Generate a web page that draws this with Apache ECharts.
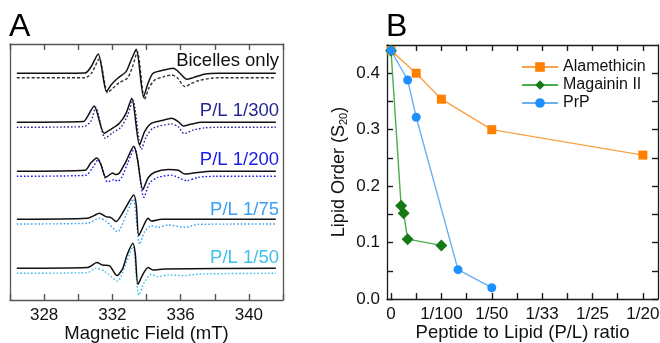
<!DOCTYPE html>
<html><head><meta charset="utf-8">
<script src="https://cdn.jsdelivr.net/npm/echarts@6/dist/echarts.min.js"></script>
<style>html,body{margin:0;padding:0;background:#fff}#c{width:660px;height:343px}</style>
</head><body><div id="c"></div>
<script>
// ---------- Panel A : EPR spectra (field in mT, derivative amplitude in arbitrary units) ----------
var traceNames = ['Bicelles only', 'P/L 1/300', 'P/L 1/200', 'P/L 1/75', 'P/L 1/50'];
var solidBaselines  = [226.7, 177.7, 128.7, 80.7, 31.7];
var dashedBaselines = [222.3, 172.7, 123.7, 76.0, 26.7];
var solid1 = [[326.4,0],[330.4,0.3],[330.73,6],[331.17,19.3],[331.66,-18.4],[331.92,-11.7],[332.31,-5],[332.8,1.7],[333.1,13.3],[333.4,24],[333.83,-23.4],[334.09,-10],[334.38,0],[334.88,2.7],[335.57,5],[335.76,3.3],[336.06,-1.7],[336.36,-6],[336.75,-4.3],[337.44,-0.7],[338.23,0],[341.58,0]];
var solid2 = [[326.4,0],[330.3,0.7],[330.54,5.7],[330.93,16.3],[331.52,-11],[331.92,-7],[332.41,-1],[332.8,9],[333.14,24],[333.59,-22.7],[333.89,-9.3],[334.28,-1],[334.88,1.7],[335.47,4],[335.86,0.7],[336.16,-3.7],[336.65,-1.7],[337.24,0],[341.58,0]];
var solid3 = [[326.4,0],[330.4,1],[330.73,8.3],[331.09,13.3],[331.33,6.7],[331.62,-6],[332.02,-1.7],[332.21,-3.3],[332.41,-1.7],[332.8,10],[333.26,25],[333.46,13.3],[333.79,-18.3],[334.09,-6.7],[334.48,-1],[335.27,1.7],[335.86,1],[336.26,-2.7],[336.75,-1.7],[337.83,0],[341.58,0]];
var solid4 = [[326.4,0],[330.54,1],[330.93,3.7],[331.23,6],[331.62,2.7],[331.92,1.7],[332.21,-2.3],[332.7,9.3],[333.26,24.3],[333.4,14.3],[333.55,-16.3],[333.85,-5.7],[334.09,1],[334.28,-1.7],[334.88,0],[341.58,0]];
var solid5 = [[326.4,0],[330.54,0.7],[331.09,5.7],[331.42,3.3],[331.82,2.7],[332.27,-7.3],[332.61,0],[332.86,13.3],[333.2,25],[333.34,15],[333.5,-16],[333.79,-6],[334.09,0.7],[334.38,-1.7],[335.07,-0.7],[341.58,0]];
var dashed1 = [[326.4,0],[330.4,0],[330.8,5],[331.23,19],[331.72,-15],[332.0,-11],[332.4,-5],[332.9,0],[333.2,12],[333.46,26],[333.89,-21.7],[334.15,-10],[334.48,-2.3],[335.0,1],[335.47,2.7],[335.8,0],[336.26,-9],[336.6,-6],[337.05,-3],[337.8,-0.5],[338.5,0],[341.58,0]];
var dashed2 = [[326.4,0],[330.3,0.7],[330.73,5.7],[331.03,20],[331.58,-11],[332.02,-5.3],[332.5,0],[332.9,12.3],[333.2,27.3],[333.7,-22],[333.99,-9.3],[334.38,-1],[335.47,3.3],[335.86,0.7],[336.2,-6.3],[336.75,-2.7],[337.44,-0.5],[338.2,0],[341.58,0]];
var dashed3 = [[326.4,0],[330.44,1],[330.83,8.3],[331.17,16.7],[331.72,-5.7],[332.11,-3.3],[332.31,-5],[332.55,-1],[332.9,13.3],[333.3,28.3],[333.85,-21],[334.19,-6.7],[334.68,-1],[335.47,1],[336.36,-4.3],[337.05,-1],[338.0,0],[341.58,0]];
var dashed4 = [[326.4,0],[330.54,0.7],[331.23,5.7],[331.62,3],[332.31,-7.7],[332.8,9],[333.22,25],[333.6,-20.3],[333.89,-7.7],[334.28,-1.7],[334.68,-3.3],[335.27,-1],[336.26,-3.3],[337.05,-0.3],[341.58,0]];
var dashed5 = [[326.4,0],[330.54,0.7],[331.03,5],[331.52,2.3],[332.31,-7.7],[332.8,10],[333.2,26.7],[333.55,-21.7],[333.89,-8.3],[334.28,-1],[334.68,-3.3],[335.27,-1.7],[336.26,-2.3],[337.05,-0.7],[341.58,0]];
var fieldTicks = [328, 332, 336, 340];

// ---------- Panel B : lipid order vs P/L ----------
var seriesNames = ['Alamethicin', 'Magainin II', 'PrP'];
var xAla = [0, 0.005, 0.01, 0.02, 0.05];
var yAla = [0.44, 0.40, 0.354, 0.30, 0.255];
var xMag = [0, 0.002, 0.0025, 0.0033, 0.01];
var yMag = [0.44, 0.165, 0.152, 0.106, 0.095];
var xPrP = [0, 0.0033, 0.005, 0.0133, 0.02];
var yPrP = [0.44, 0.388, 0.322, 0.052, 0.02];
var plTickValues = [0, 0.01, 0.02, 0.03, 0.04, 0.05];
var plTickLabels = ['0', '1/100', '1/50', '1/33', '1/25', '1/20'];
var plTicks = [0, 0.005, 0.01, 0.015, 0.02, 0.025, 0.03, 0.035, 0.04, 0.045, 0.05];
var orderTickValues = [0, 0.1, 0.2, 0.3, 0.4];
var orderTicks = [0, 0.05, 0.1, 0.15, 0.2, 0.25, 0.3, 0.35, 0.4];

var FONT = '"Liberation Sans", Arial, sans-serif';
var solidTraces = [solid1, solid2, solid3, solid4, solid5];
var dashedTraces = [dashed1, dashed2, dashed3, dashed4, dashed5];
var dashColors = ['#333333', '#2a2a95', '#1c1ce8', '#3a9ff3', '#3fc0ea'];
var labelColors = ['#111111', '#26268f', '#1c1ce8', '#3a9ff3', '#3fc0ea'];

function shift(tr, b) { return tr.map(function (p) { return [p[0], p[1] + b]; }); }
function zip(xs, ys) { return xs.map(function (x, i) { return [x, ys[i]]; }); }

var series = [];
for (var i = 0; i < 5; i++) {
  series.push({ type: 'line', xAxisIndex: 0, yAxisIndex: 0, data: shift(dashedTraces[i], dashedBaselines[i]),
    showSymbol: false, smooth: 0.25, silent: true,
    lineStyle: { color: dashColors[i], width: 1.4, type: i === 0 ? [3, 2] : [1.6, 2] } });
  series.push({ type: 'line', xAxisIndex: 0, yAxisIndex: 0, data: shift(solidTraces[i], solidBaselines[i]),
    showSymbol: false, smooth: 0.25, silent: true,
    lineStyle: { color: '#111', width: 1.5 } });
}
var bDefs = [
  { name: seriesNames[0], data: zip(xAla, yAla), symbol: 'rect', size: 9, mc: '#ff7f00', lc: '#f8a24a' },
  { name: seriesNames[1], data: zip(xMag, yMag), symbol: 'diamond', size: 12, mc: '#157a15', lc: '#4caf4c' },
  { name: seriesNames[2], data: zip(xPrP, yPrP), symbol: 'circle', size: 9, mc: '#1e8fff', lc: '#6ab0f2' }
];
bDefs.forEach(function (d) {
  series.push({ type: 'line', name: d.name, xAxisIndex: 2, yAxisIndex: 2, data: d.data,
    symbol: d.symbol, symbolSize: d.size, showSymbol: true,
    itemStyle: { color: d.mc }, lineStyle: { color: d.lc, width: 1.4 } });
});

var tickFont = { fontFamily: FONT, fontSize: 17, color: '#111' };
var graphics = [
  { type: 'text', left: 9, top: 11, style: { text: 'A', font: '32px ' + FONT, fill: '#000' } },
  { type: 'text', left: 386, top: 11, style: { text: 'B', font: '32px ' + FONT, fill: '#000' } }
];
var labelY = [61, 111, 160, 210, 258];
for (var k = 0; k < 5; k++) {
  graphics.push({ type: 'text', right: 660 - 279, top: labelY[k] - 10,
    style: { text: traceNames[k], font: '18.5px ' + FONT, fill: labelColors[k], textAlign: 'right' } });
}
function plLabel(v) {
  for (var j = 0; j < plTickValues.length; j++) { if (Math.abs(v - plTickValues[j]) < 1e-6) return plTickLabels[j]; }
  return '';
}
var AC = '#555', BC = '#1a1a1a';
function tick(color, vals) {
  var t = { show: true, inside: true, length: 6, lineStyle: { color: color, width: 1.4 } };
  if (vals) t.customValues = vals;
  return t;
}
function line(color) { return { show: true, onZero: false, lineStyle: { color: color, width: 1.3 } }; }

var option = {
  animation: false,
  backgroundColor: '#fff',
  grid: [
    { left: 10, right: 377, top: 44, bottom: 43, containLabel: false, outerBoundsMode: 'none' },
    { left: 387, right: 2, top: 45, bottom: 44, containLabel: false, outerBoundsMode: 'none' }
  ],
  legend: {
    data: seriesNames, orient: 'vertical', left: 521, top: 59, itemGap: 2, padding: 0,
    itemWidth: 36, itemHeight: 12,
    textStyle: { fontFamily: FONT, fontSize: 16, color: '#111' }
  },
  xAxis: [
    { type: 'value', gridIndex: 0, min: 326, max: 342, interval: 2,
      axisLine: line(AC), axisTick: tick(AC),
      axisLabel: Object.assign({ margin: 7, formatter: function (v) { return fieldTicks.indexOf(v) >= 0 ? String(v) : ''; } }, tickFont),
      splitLine: { show: false },
      name: 'Magnetic Field (mT)', nameLocation: 'middle', nameGap: 24, nameMoveOverlap: false,
      nameTextStyle: { fontFamily: FONT, fontSize: 18.5, color: '#111' } },
    { type: 'value', gridIndex: 0, position: 'top', min: 326, max: 342, interval: 2,
      axisLine: line(AC), axisTick: tick(AC),
      axisLabel: { show: false }, splitLine: { show: false } },
    { type: 'value', gridIndex: 1, min: -0.0008, max: 0.053,
      axisLine: line(BC), axisTick: tick(BC, plTicks),
      axisLabel: Object.assign({ margin: 7, customValues: plTickValues, formatter: plLabel }, tickFont),
      splitLine: { show: false },
      name: 'Peptide to Lipid (P/L) ratio', nameLocation: 'middle', nameGap: 24, nameMoveOverlap: false,
      nameTextStyle: { fontFamily: FONT, fontSize: 18.5, color: '#111' } },
    { type: 'value', gridIndex: 1, position: 'top', min: -0.0008, max: 0.053,
      axisLine: line(BC), axisTick: tick(BC, plTicks),
      axisLabel: { show: false }, splitLine: { show: false } }
  ],
  yAxis: [
    { type: 'value', gridIndex: 0, min: 0, max: 256,
      axisLine: line(AC), axisTick: { show: false }, axisLabel: { show: false }, splitLine: { show: false } },
    { type: 'value', gridIndex: 0, position: 'right', min: 0, max: 256,
      axisLine: line(AC), axisTick: { show: false }, axisLabel: { show: false }, splitLine: { show: false } },
    { type: 'value', gridIndex: 1, min: 0, max: 0.45,
      axisLine: line(BC), axisTick: tick(BC, orderTicks),
      axisLabel: Object.assign({ margin: 7, customValues: orderTickValues, formatter: function (v) { return v.toFixed(1); } }, tickFont),
      splitLine: { show: false },
      name: '{a|Lipid Order (S}{s|20}{a|)}', nameLocation: 'middle', nameGap: 38, nameRotate: 90,
      nameTextStyle: { rich: {
        a: { fontFamily: FONT, fontSize: 18, color: '#111' },
        s: { fontFamily: FONT, fontSize: 11, color: '#111', verticalAlign: 'bottom', padding: [8, 0, 0, 0] } } } },
    { type: 'value', gridIndex: 1, position: 'right', min: 0, max: 0.45,
      axisLine: line(BC), axisTick: tick(BC, orderTicks),
      axisLabel: { show: false }, splitLine: { show: false } }
  ],
  graphic: graphics,
  series: series
};
var chart = echarts.init(document.getElementById('c'), null, { renderer: 'canvas' });
chart.setOption(option);
</script></body></html>
